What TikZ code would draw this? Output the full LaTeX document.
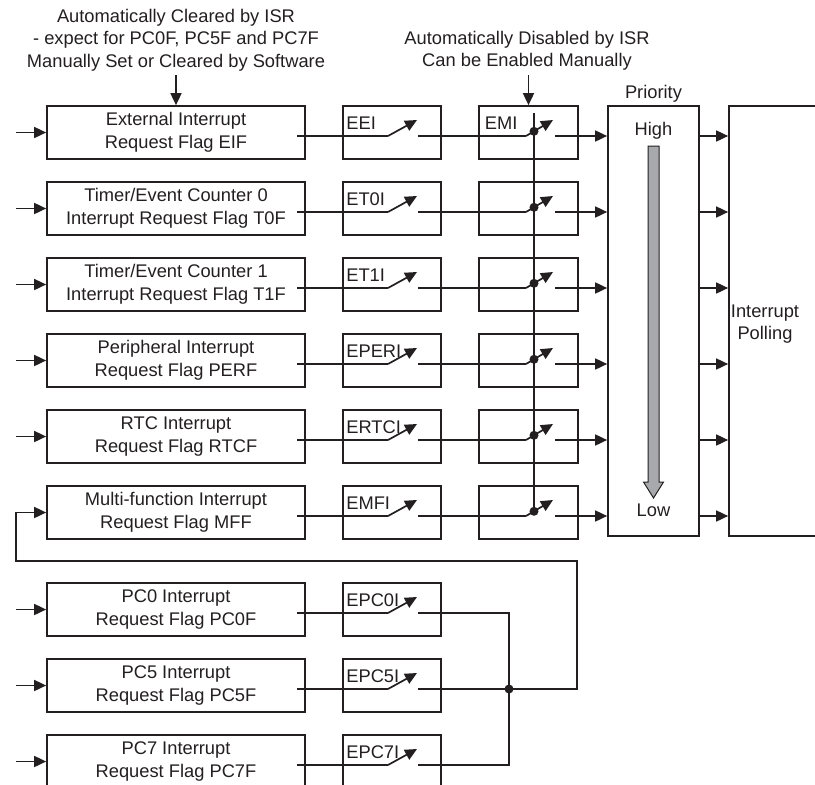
\documentclass[tikz,border=0pt]{standalone}
\usepackage{fontspec}
\setmainfont{Liberation Sans}
\usetikzlibrary{arrows.meta}
\definecolor{ink}{HTML}{231F20}
\definecolor{barfill}{HTML}{A7A9AC}
\newcommand\dfont{\fontsize{18.3pt}{22.5pt}\selectfont}
\begin{document}
\begin{tikzpicture}[x=1pt,y=-1pt, line width=1.7pt, color=ink, font=\dfont,
  flag/.style={draw, minimum width=258pt, minimum height=53pt, align=center, inner sep=0pt},
  enbox/.style={draw, minimum width=98pt, minimum height=53pt, inner sep=0pt},
  lbl/.style={inner sep=0pt, anchor=base west},
  arr/.style={-{Triangle[length=12pt,width=11pt]}},
  dot/.style={circle, fill=ink, inner sep=0pt, minimum size=9pt},
  tall/.style={draw, minimum height=430pt, inner sep=0pt}]
\useasboundingbox (0,0) rectangle (815,785);
\clip (0,0) rectangle (815,785);

% notes
\node[align=center] (note1) at (176,40) {Automatically Cleared by ISR\\- expect for PC0F, PC5F and PC7F\\Manually Set or Cleared by Software};
\node[align=center] (note2) at (527,51) {Automatically Disabled by ISR\\Can be Enabled Manually};

% flag boxes
\node[flag] (f1) at (176,132.5) {External Interrupt\\Request Flag EIF};
\node[flag] (f2) at (176,208.5) {Timer/Event Counter 0\\Interrupt Request Flag T0F};
\node[flag] (f3) at (176,284.5) {Timer/Event Counter 1\\Interrupt Request Flag T1F};
\node[flag] (f4) at (176,360.5) {Peripheral Interrupt\\Request Flag PERF};
\node[flag] (f5) at (176,436.5) {RTC Interrupt\\Request Flag RTCF};
\node[flag] (f6) at (176,512.5) {Multi-function Interrupt\\Request Flag MFF};
\node[flag] (f7) at (176,609.5) {PC0 Interrupt\\Request Flag PC0F};
\node[flag] (f8) at (176,685.5) {PC5 Interrupt\\Request Flag PC5F};
\node[flag] (f9) at (176,761.5) {PC7 Interrupt\\Request Flag PC7F};

% enable boxes
\foreach \i/\cy/\lab in {1/132.5/EEI,2/208.5/ET0I,3/284.5/ET1I,4/360.5/EPERI,5/436.5/ERTCI,6/512.5/EMFI,7/609.5/EPC0I,8/685.5/EPC5I,9/761.5/EPC7I}{
  \node[enbox] (e\i) at (392,\cy) {};
  \node[lbl] (el\i) at (345.5,{\cy-3.5}) {\lab};
}
% EMI boxes
\foreach \i/\cy in {1/132.5,2/208.5,3/284.5,4/360.5,5/436.5,6/512.5}{
  \node[enbox, minimum width=99pt] (m\i) at (528.5,\cy) {};
}
\node[lbl] (emi) at (484,129) {EMI};

% priority and polling
\node[tall, minimum width=91pt] (pri) at (653.5,321) {};
\node[tall, minimum width=101pt] (poll) at (779.5,321) {};
\node[anchor=base, inner sep=0pt] (prit) at (653.5,98) {Priority};
\node[anchor=base, inner sep=0pt] (high) at (653.5,135) {High};
\node[anchor=base, inner sep=0pt] (low) at (653.5,516) {Low};
\node[align=center, inner sep=0pt] (pollt) at (765,324) {Interrupt\\Polling};
\draw[fill=barfill, line width=1pt] (648,146) -- (659,146) -- (659,482) -- (663.5,482) -- (653.5,498) -- (643.5,482) -- (648,482) -- cycle;

% note arrows
\coordinate (n1) at (176,75);
\coordinate (n2) at (528.5,75);
\draw[arr] (n1) -- (f1.north);
\draw[arr] (n2) -- (m1.north);

% input arrows
\foreach \i/\cy in {1/132.5,2/208.5,3/284.5,4/360.5,5/436.5,7/609.5,8/685.5,9/761.5}{
  \coordinate (in\i) at (16,\cy);
  \draw[arr] (in\i) -- (f\i.west);
}

% first switches
\foreach \i/\yr in {1/136,2/212,3/288,4/364,5/440,6/516,7/613,8/689,9/765}{
  \coordinate (fo\i) at (297,\yr);
  \coordinate (pa\i) at (388,\yr);
  \coordinate (ta\i) at (417,{\yr-16});
  \coordinate (oa\i) at (418,\yr);
  \draw (fo\i) -- (pa\i);
  \draw[arr] (pa\i) -- (ta\i);
}

% second switches
\foreach \i/\yr in {1/136,2/212,3/288,4/364,5/440,6/516}{
  \coordinate (pb\i) at (526,\yr);
  \coordinate (tb\i) at (553,{\yr-16});
  \coordinate (ob\i) at (555,\yr);
  \draw (oa\i) -- (pb\i);
  \draw[arr] (pb\i) -- (tb\i);
  \node[dot] (d\i) at (534,{\yr-4.7}) {};
  \draw[arr] (ob\i) -- (ob\i -| pri.west);
  \draw[arr] (ob\i -| pri.east) -- (ob\i -| poll.west);
}
\coordinate (vt) at (534,113);
\draw (vt) -- (d6.center);

% PC bus and feedback
\node[dot] (jd) at (509,689) {};
\draw (oa7) -| (jd.center);
\draw (oa9) -| (jd.center);
\draw (oa8) -- (jd.center);
\coordinate (fb1) at (577,689);
\coordinate (fb2) at (577,561);
\coordinate (fb3) at (16,561);
\coordinate (fb4) at (16,512.5);
\draw[arr] (jd.center) -- (fb1) -- (fb2) -- (fb3) -- (fb4) -- (f6.west);
\end{tikzpicture}
\end{document}
